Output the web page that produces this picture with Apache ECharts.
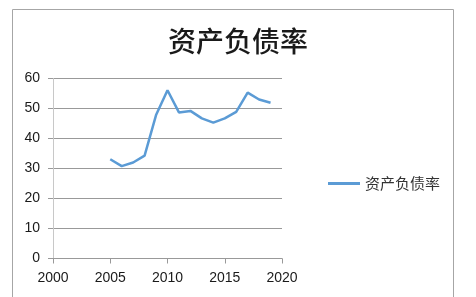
<!DOCTYPE html>
<html><head><meta charset="utf-8">
<script src="https://cdn.jsdelivr.net/npm/echarts@6/dist/echarts.min.js"></script>
<style>html,body{margin:0;padding:0;background:#fff}#c{width:476px;height:297px}</style>
</head><body><div id="c"></div>
<script>
const years = [2005,2006,2007,2008,2009,2010,2011,2012,2013,2014,2015,2016,2017,2018,2019];
const values = [33.1,30.8,32.0,34.3,47.8,56.1,48.7,49.2,46.7,45.3,46.7,48.9,55.3,53.0,51.9];
const seriesName = '资产负债率';
const titleText = '资产负债率';

const chart = echarts.init(document.getElementById('c'), null, {renderer:'canvas'});
chart.setOption({
  animation:false,
  backgroundColor:'#fff',
  graphic:[{type:'rect',shape:{x:12.5,y:9.5,width:441,height:300},style:{fill:'none',stroke:'#a6a6a6',lineWidth:1},silent:true}],
  title:{text:titleText,top:22,left:233,textAlign:'center',textStyle:{fontFamily:'Noto Sans CJK SC',fontSize:28,fontWeight:'500',color:'#1a1a1a'}},
  legend:{show:true,left:323,top:171,itemWidth:32,itemHeight:3,itemGap:4,icon:'rect',
    textStyle:{fontFamily:'Noto Sans CJK SC',fontSize:15,color:'#333'},data:[seriesName]},
  grid:{left:53,right:194,top:78.5,bottom:38.5,containLabel:false},
  xAxis:{type:'value',min:2000,max:2020,interval:5,
    axisLine:{show:true,lineStyle:{color:'#999',width:1}},
    axisTick:{show:true,length:5,lineStyle:{color:'#999'}},
    splitLine:{show:false},
    axisLabel:{fontFamily:'Liberation Sans',fontSize:14,color:'#1a1a1a',margin:13,formatter:v=>String(v)}},
  yAxis:{type:'value',min:0,max:60,interval:10,
    axisLine:{show:true,lineStyle:{color:'#c8c8c8',width:1}},
    axisTick:{show:true,length:5,lineStyle:{color:'#999'}},
    splitLine:{show:true,lineStyle:{color:'#999',width:1}},
    axisLabel:{fontFamily:'Liberation Sans',fontSize:14,color:'#1a1a1a',margin:13}},
  series:[{name:seriesName,type:'line',data:years.map((y,i)=>[y,values[i]]),
    symbol:'none',lineStyle:{color:'#5B9BD5',width:2.5},itemStyle:{color:'#5B9BD5'}}]
});
</script></body></html>
